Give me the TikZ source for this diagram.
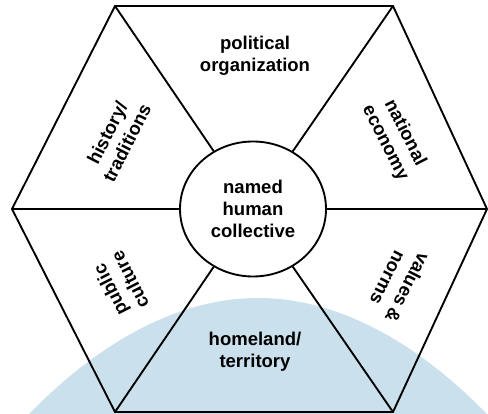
\documentclass[tikz,border=0pt]{standalone}
\usepackage{fontspec}
\setmainfont{Liberation Sans}
\usepackage{tikz}
\usetikzlibrary{shapes.geometric, positioning}
\definecolor{homeblue}{RGB}{203, 224, 237}
\newcommand\facetfont{\bfseries\fontsize{15.8}{18.8}\selectfont}

\begin{document}
\begin{tikzpicture}[
        x=0.3mm, y=0.3mm,
        edge/.style={draw=black, line width=1.6pt, line join=miter},
        hub/.style={ellipse, draw=black, line width=1.6pt, fill=white, minimum width=43.8mm, minimum height=40.5mm, inner sep=0pt, align=center, font=\facetfont},
        facet/.style={align=center, font=\facetfont},
    ]
    \useasboundingbox (0,0) rectangle (488,414);

    % Homeland dome
    \fill[homeblue] (14,-16) parabola bend (258,116) (502,-16) -- cycle;

    % Hexagon corners
    \coordinate (tl) at (115,408);
    \coordinate (tr) at (393,408);
    \coordinate (r) at (487,205);
    \coordinate (br) at (393,2);
    \coordinate (bl) at (115,2);
    \coordinate (l) at (12,205);

    % Centre
    \node[hub] (hub) at (253,205) {named\\human\\collective};

    % Outline and spokes
    \draw[edge] (tl) -- (tr) -- (r) -- (br) -- (bl) -- (l) -- cycle;
    \foreach \v in {tl,tr,r,br,bl,l}
        \draw[edge] (\v) -- (hub);

    % Facets
    \node[facet] (politics) at (255,358) {political\\organization};
    \node[facet] (homeland) at (255,62) {homeland/\\territory};
    \node[facet, rotate=63] (history) at (117,276) {history/\\traditions};
    \node[facet, rotate=-63] (economy) at (395,276) {national\\economy};
    \node[facet, rotate=117] (culture) at (120,129) {public\\culture};
    \node[facet, rotate=-117] (values) at (398,131) {values \&\\norms};

\end{tikzpicture}
\end{document}
